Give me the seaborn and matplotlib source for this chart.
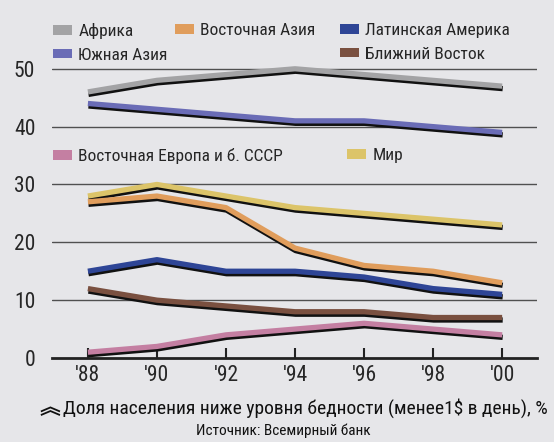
import matplotlib
matplotlib.use("Agg")
import matplotlib.pyplot as plt
import matplotlib.patheffects as pe
from matplotlib.patches import Patch
import seaborn as sns
import pandas as pd

years = [1988, 1990, 1992, 1994, 1996, 1998, 2000]
year_labels = ["'88", "'90", "'92", "'94", "'96", "'98", "'00"]

africa = [46, 48, 49, 50, 49, 48, 47]
south_asia = [44, 43, 42, 41, 41, 40, 39]
world = [28, 30, 28, 26, 25, 24, 23]
east_asia = [27, 28, 26, 19, 16, 15, 13]
latin_america = [15, 17, 15, 15, 14, 12, 11]
middle_east = [12, 10, 9, 8, 8, 7, 7]
east_europe = [1, 2, 4, 5, 6, 5, 4]

names = ["Африка", "Южная Азия", "Мир", "Восточная Азия",
         "Латинская Америка", "Ближний Восток", "Восточная Европа и б. СССР"]
series = [africa, south_asia, world, east_asia, latin_america, middle_east, east_europe]
colors = ["#a3a3a5", "#6a6cb6", "#dcc469", "#e09d5c", "#2e4596", "#7a5040", "#c47fa2"]

rows = []
for n, vals in zip(names, series):
    for y, v in zip(years, vals):
        rows.append({"year": y, "value": v, "region": n})
df = pd.DataFrame(rows)

sns.set_style("white")
FONT = ["Roboto Condensed", "DejaVu Sans"]
plt.rcParams["font.family"] = FONT

BG = "#e6e6e9"
fig = plt.figure(figsize=(5.54, 4.42), dpi=100, facecolor=BG)
ax = fig.add_axes([52 / 554, 84 / 442, 485 / 554, 295 / 442])
ax.set_facecolor(BG)

ax.set_xlim(1986.96, 2001.01)
ax.set_ylim(0, 51)
for g in [10, 20, 30, 40, 50]:
    ax.axhline(g, color="#505050", lw=1.0, zorder=1)

sns.lineplot(data=df, x="year", y="value", hue="region", hue_order=names,
             palette=colors, linewidth=3.8, legend=False, ax=ax, zorder=3)
for ln in ax.lines[5:]:
    ln.set_solid_capstyle("butt")
    ln.set_solid_joinstyle("round")
    ln.set_path_effects([pe.SimpleLineShadow(offset=(0.4, -1.8), shadow_color="#111111",
                                             alpha=1.0), pe.Normal()])

for s in ["top", "right", "left"]:
    ax.spines[s].set_visible(False)
ax.spines["bottom"].set_linewidth(2.0)
ax.spines["bottom"].set_color("#222222")
ax.spines["bottom"].set_zorder(2)

ax.set_xticks(years)
ax.set_xticklabels(year_labels, fontsize=15.5)
ax.set_yticks([0, 10, 20, 30, 40, 50])
ax.set_yticklabels(["0", "10", "20", "30", "40", "50"], fontsize=15.5)
ax.tick_params(axis="x", direction="in", length=7, width=1.5, color="#222222", pad=5,
               bottom=True)
ax.tick_params(axis="y", length=0, pad=12)
ax.set_xlabel("")
ax.set_ylabel("")

cmap = dict(zip(names, colors))

def h(n):
    return Patch(facecolor=cmap[n], edgecolor="none", label=n)

LEGKW = dict(loc="upper left", frameon=False, fontsize=12.5, handlelength=1.1,
             handleheight=0.5, handletextpad=0.35, labelspacing=0.5, borderpad=0.0,
             borderaxespad=0.0)

# top legend, three columns placed at the reference positions
for hs, x in [([h("Африка"), h("Южная Азия")], 53),
              ([h("Восточная Азия")], 175),
              ([h("Латинская Америка"), h("Ближний Восток")], 340)]:
    fig.legend(handles=hs, bbox_to_anchor=(x / 554, 1 - 23 / 442), **LEGKW)

# middle legend
for hs, x in [([h("Восточная Европа и б. СССР")], 53), ([h("Мир")], 347)]:
    fig.legend(handles=hs, bbox_to_anchor=(x / 554, 1 - 148 / 442), **LEGKW)

fig.text(50 / 554, 1 - 408 / 442, "︽", ha="center", va="center", fontsize=15,
         weight="bold", color="#111111", family=["Noto Sans CJK SC", "DejaVu Sans"])
fig.text(63 / 554, 1 - 408 / 442, "Доля населения ниже уровня бедности (менее1$ в день), %",
         ha="left", va="center", fontsize=14, color="#111111")
fig.text(283 / 554, 1 - 431 / 442, "Источник: Всемирный банк", ha="center", va="center",
         fontsize=11, color="#111111")

fig.savefig("out.png", dpi=100, facecolor=BG)
